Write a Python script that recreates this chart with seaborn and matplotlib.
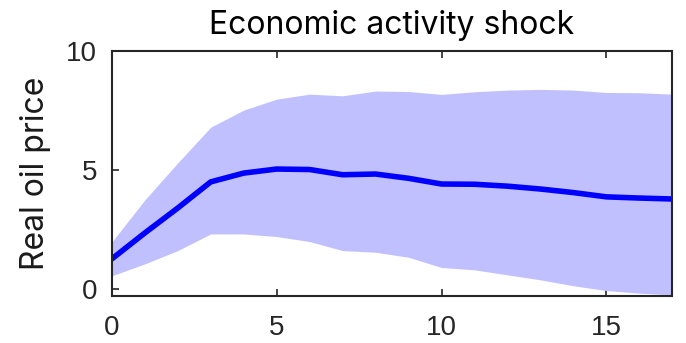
import matplotlib
matplotlib.use("Agg")
import matplotlib.pyplot as plt
import seaborn as sns
import pandas as pd

horizon = list(range(18))
median = [1.26, 2.35, 3.4, 4.5, 4.87, 5.04, 5.02, 4.8, 4.83, 4.65, 4.41, 4.4, 4.32, 4.2, 4.05, 3.87, 3.82, 3.78]
upper = [1.97, 3.74, 5.3, 6.8, 7.52, 7.98, 8.19, 8.12, 8.32, 8.3, 8.18, 8.29, 8.36, 8.39, 8.36, 8.26, 8.25, 8.19]
lower = [0.55, 1.05, 1.61, 2.31, 2.31, 2.2, 1.99, 1.61, 1.54, 1.33, 0.9, 0.8, 0.59, 0.38, 0.13, -0.07, -0.18, -0.25]
xticks = [0, 5, 10, 15]
yticks = [0, 5, 10]

df = pd.DataFrame({"h": horizon, "median": median, "upper": upper, "lower": lower})

sns.set_style("white")
plt.rcParams["font.family"] = ["Liberation Sans", "DejaVu Sans"]

fig = plt.figure(figsize=(6.86, 3.43), dpi=100)
ax = fig.add_axes([0.163, 0.137, 0.817, 0.714])

ax.fill_between(df["h"], df["lower"], df["upper"], color="#C0C0FF", linewidth=0)
sns.lineplot(data=df, x="h", y="median", ax=ax, color="#0000FF", linewidth=4)

ax.set_xlim(0, 17)
ax.set_ylim(-0.3, 10)
ax.set_xticks(xticks)
ax.set_yticks(yticks)
ax.set_xlabel("")
ax.set_ylabel("Real oil price", fontsize=23, color="#1a1a1a", family=["Inter", "DejaVu Sans"])
ax.yaxis.set_label_coords(-0.109, 0.5)
ax.set_title("Economic activity shock", fontsize=23, color="black", pad=12.5,
             family=["Inter", "DejaVu Sans"])
ax.tick_params(direction="in", length=5, width=1.2, labelsize=20, colors="#262626",
               top=True, right=True, bottom=True, left=True)
ax.tick_params(axis="x", pad=14)
ax.tick_params(axis="y", pad=10.5)
for s in ax.spines.values():
    s.set_visible(True)
    s.set_color("#262626")
    s.set_linewidth(1.5)

fig.savefig("out.png", dpi=100)
